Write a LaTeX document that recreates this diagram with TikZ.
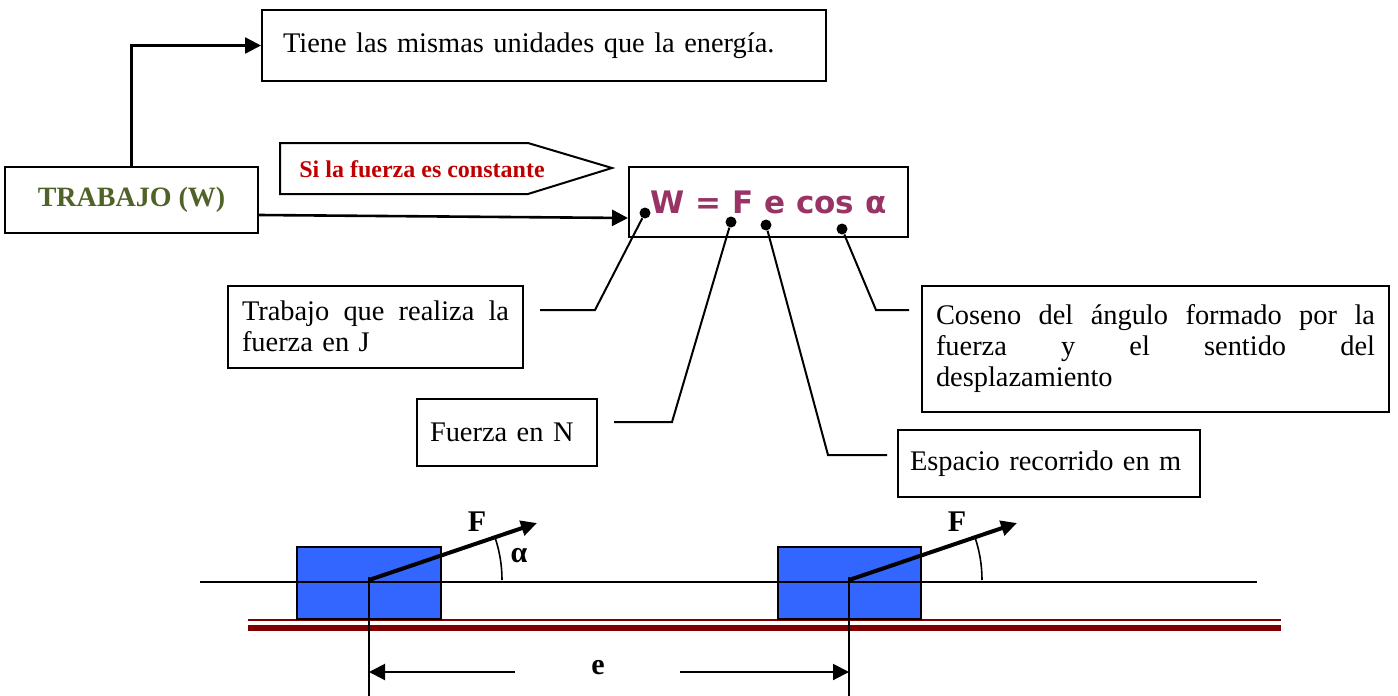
\documentclass[tikz,border=0pt]{standalone}
\usepackage{fontspec}
\setmainfont{Liberation Serif}
\newfontfamily\formulafont{DejaVu Sans}
\usetikzlibrary{arrows.meta}
\definecolor{olivetxt}{HTML}{4F6228}
\definecolor{redtxt}{HTML}{C00000}
\definecolor{formulatxt}{HTML}{993366}
\definecolor{blockblue}{HTML}{3366FF}
\definecolor{groundred}{HTML}{800000}
\newcommand{\fullline}[2]{\leavevmode\hbox to #1{#2}}
\tikzset{
  box/.style={draw,line width=1pt,inner ysep=0pt,font=\fontsize{14.2}{15.5}\selectfont},
  tip/.style={-{Triangle[length=8pt,width=8pt]}},
  dot/.style={circle,fill,inner sep=0pt,minimum size=5.5pt},
  lead/.style={line width=1pt},
  bigbold/.style={font=\fontsize{15}{16}\selectfont\bfseries}
}

\begin{document}
\begin{tikzpicture}[x=0.5pt,y=-0.5pt]
  \useasboundingbox (0,0) rectangle (1398,696);
  % boxes of the upper part
  \node[box,text width=261pt,inner xsep=10.5pt,minimum height=35.5pt,align=left] (tiene) at (544,45.5) {Tiene las mismas unidades que la energía.};
  \node[box,minimum width=126.5pt,minimum height=33pt,font=\fontsize{14}{15}\selectfont\bfseries,text=olivetxt] (trabajo) at (131.5,200) {TRABAJO (W)};
  \node[box,minimum width=139.5pt,minimum height=35pt,font=\formulafont\bfseries\fontsize{15.5}{16}\selectfont,text=formulatxt] (formula) at (768.5,202) {W = F e cos α};
  \draw[line width=1pt] (280,143) -- (528,143) -- (612,168) -- (528,194) -- (280,194) -- cycle;
  \node[text=redtxt,font=\fontsize{12}{13}\selectfont\bfseries] (cond) at (422,169) {Si la fuerza es constante};
  \draw[tip,line width=1.3pt] (trabajo.north) |- (tiene.west);
  \draw[tip,line width=1.3pt] ([yshift=-7.5pt]trabajo.east) -- ([yshift=-8pt]formula.west);
  % the terms of the formula
  \node[dot] (dW)   at (645,213) {};
  \node[dot] (dF)   at (731,222) {};
  \node[dot] (de)   at (766,225) {};
  \node[dot] (dcos) at (842,229) {};
  \node[box,text width=133.5pt,inner xsep=7pt,minimum height=41pt,align=left] (realiza) at (375.5,326.5)
     {\fullline{133.5pt}{Trabajo\hfill que\hfill realiza\hfill la}\\ fuerza en J};
  \node[box,text width=77pt,inner xsep=6.5pt,minimum height=33.5pt,align=left] (fuerza) at (507,432.5) {Fuerza en N};
  \node[box,text width=139pt,inner xsep=6pt,minimum height=33.5pt,align=left] (espacio) at (1049,463.5) {Espacio recorrido en m};
  \node[box,text width=219.5pt,inner xsep=7pt,minimum height=63pt,align=left] (coseno) at (1155.5,349)
     {\fullline{219.5pt}{Coseno\hfill del\hfill ángulo\hfill formado\hfill por\hfill la}\\
      \fullline{219.5pt}{fuerza\hfill y\hfill el\hfill sentido\hfill del}\\ desplazamiento};
  \draw[lead] (dW)   -- (595,310) -- (540,310);
  \draw[lead] (dF)   -- (672,422) -- (614,422);
  \draw[lead] (de)   -- (828,455) -- (887,455);
  \draw[lead] (dcos) -- (876,310) -- (909,310);
  % ground
  \draw[groundred,line width=0.8pt] (248,620) -- (1281,620);
  \draw[groundred,line width=3pt]   (248,628) -- (1281,628);
  \draw[fill=blockblue,line width=0.9pt] (297,547) rectangle (441,619);
  \draw[fill=blockblue,line width=0.9pt] (778,547) rectangle (921,619);
  \draw[line width=0.6pt] (200,582) -- (1257,582);
  % first position
  \coordinate (baseA) at (369,580);
  \coordinate (tipA)  at (537,523);
  \draw[line width=2pt,-{Triangle[length=8pt,width=7.5pt]}] (baseA) -- (tipA);
  \draw[line width=0.8pt] (baseA) ++(133,0) arc[start angle=0,end angle=-19,radius=133];
  \node[bigbold] (fA)     at (477,522) {F};
  \node[bigbold] (alphaA) at (519,556) {α};
  \draw[line width=0.8pt] (369,577) -- (369,696);
  % second position
  \coordinate (baseB) at (849,580);
  \coordinate (tipB)  at (1017,523);
  \draw[line width=2pt,-{Triangle[length=8pt,width=7.5pt]}] (baseB) -- (tipB);
  \draw[line width=0.8pt] (baseB) ++(133,0) arc[start angle=0,end angle=-19,radius=133];
  \node[bigbold] (fB) at (957,522) {F};
  \draw[line width=0.8pt] (849,577) -- (849,696);
  % displacement
  \node[bigbold] (dime) at (598,668) {e};
  \draw[tip,line width=1pt] (515,672) -- (369,672);
  \draw[tip,line width=1pt] (680,672) -- (849,672);
\end{tikzpicture}
\end{document}
